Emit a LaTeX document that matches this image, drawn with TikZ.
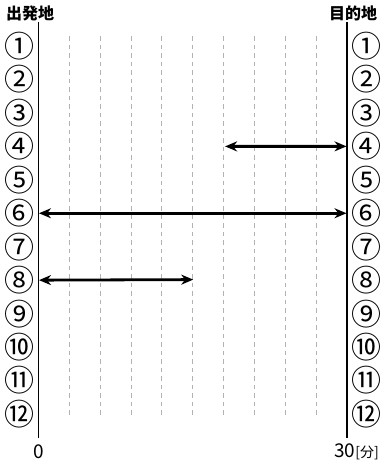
\documentclass[tikz,border=0pt]{standalone}
\usepackage{fontspec}
\setmainfont{Noto Sans CJK JP}
\usetikzlibrary{arrows.meta}
\begin{document}
\begin{tikzpicture}[x=1pt,y=-1pt,
  axisline/.style={line width=1.2pt,black},
  gridline/.style={gray!60,line width=0.9pt,dash pattern=on 4.5pt off 4pt},
  rowlabel/.style={font=\fontsize{30}{30}\selectfont,inner sep=0pt},
  title/.style={font=\fontsize{16}{16}\selectfont\bfseries,inner sep=0pt},
  ticklabel/.style={font=\fontsize{19}{19}\selectfont,inner sep=0pt},
  trip/.style={line width=2.8pt,{Stealth[length=12pt,width=10pt]}-{Stealth[length=12pt,width=10pt]},shorten <=0.5pt,shorten >=0.5pt}]
\useasboundingbox (0,0) rectangle (384,464);
% axes
\coordinate (LT) at (38.5,22);
\coordinate (LB) at (38.5,438);
\coordinate (RT) at (347,22);
\coordinate (RB) at (347,438);
\draw[axisline] (LT) -- (LB);
\draw[axisline] (RT) -- (RB);
% grid
\foreach \i in {1,...,9}{
  \coordinate (gt\i) at ({38.5+\i*30.85},36);
  \coordinate (gb\i) at ({38.5+\i*30.85},418);
  \draw[gridline] (gt\i) -- (gb\i);
}
% titles
\node[title] (orig) at (30,13) {出発地};
\node[title] (dest) at (353,13) {目的地};
% row labels
\foreach \n/\s [count=\k] in {1/①,2/②,3/③,4/④,5/⑤,6/⑥,7/⑦,8/⑧,9/⑨,10/⑩,11/⑪,12/⑫}{
  \node[rowlabel] (l\k) at (20,{46+(\k-1)*33.45}) {\s};
  \node[rowlabel] (r\k) at (366,{46+(\k-1)*33.45}) {\s};
  \coordinate (L\k) at (38.5,{46+(\k-1)*33.45});
  \coordinate (R\k) at (347,{46+(\k-1)*33.45});
}
% arrows
\coordinate (A4) at (224.6,146.4);
\draw[trip] (A4) -- (R4);
\draw[trip] (L6) -- (R6);
\coordinate (A8) at (193.75,279.6);
\draw[trip] (L8) -- (A8);
% tick labels
\node[ticklabel] (t0) at (38.5,452) {0};
\node[ticklabel,anchor=west] (t30) at (334,452) {30\fontsize{14}{14}\selectfont[分]};
\end{tikzpicture}
\end{document}
